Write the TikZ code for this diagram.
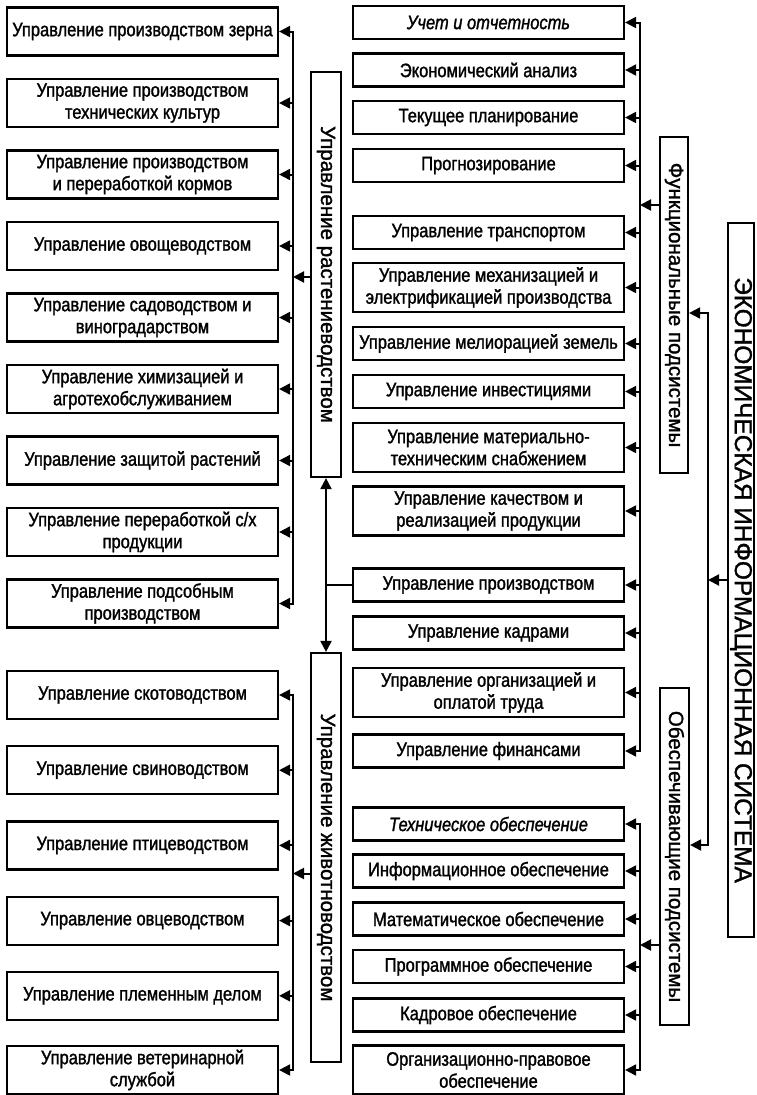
\documentclass[tikz,border=0pt]{standalone}
\usepackage{fontspec}
\usepackage{graphicx}
\setmainfont{Liberation Sans}
\newfontfamily\boxfont[FakeStretch=0.845,FakeBold=1.4]{Liberation Sans}
\newfontfamily\labfont[FakeBold=1.4]{Liberation Sans}
\usetikzlibrary{arrows.meta}
\begin{document}
\begin{tikzpicture}[x=1pt,y=-1pt,
  box/.style={draw, line width=2.2pt, align=center, inner sep=0pt, font=\boxfont\fontsize{19.5}{22}\selectfont},
  lbox/.style={box, minimum width=271pt, minimum height=48pt},
  mbox/.style={box, minimum width=271pt, minimum height=33pt},
  mboxtwo/.style={box, minimum width=271pt, minimum height=49pt},
  vbox/.style={draw, line width=2.2pt, inner sep=0pt, font=\labfont\fontsize{20.5}{22}\selectfont},
  conn/.style={line width=2pt, line cap=rect},
  tipA/.tip={Triangle[length=11pt,width=11pt]},
  arr/.style={conn, -tipA},
  both/.style={conn, tipA-tipA},
]
\useasboundingbox (0,0) rectangle (757,1095);
\coordinate (bA) at (293,0);
\coordinate (bM) at (640,0);
\coordinate (bR) at (708,0);

% left column: crop production
\node[lbox] (L1) at (142.5,31.5) {Управление производством зерна};
\node[lbox] (L2) at (142.5,103) {Управление производством\\технических культур};
\node[lbox] (L3) at (142.5,174.5) {Управление производством\\и переработкой кормов};
\node[lbox] (L4) at (142.5,246) {Управление овощеводством};
\node[lbox] (L5) at (142.5,317.5) {Управление садоводством и\\виноградарством};
\node[lbox] (L6) at (142.5,389) {Управление химизацией и\\агротехобслуживанием};
\node[lbox] (L7) at (142.5,460.5) {Управление защитой растений};
\node[lbox] (L8) at (142.5,532) {Управление переработкой с/х\\продукции};
\node[lbox] (L9) at (142.5,603.5) {Управление подсобным\\производством};
% left column: animal husbandry
\node[lbox] (L10) at (142.5,695) {Управление скотоводством};
\node[lbox] (L11) at (142.5,770.2) {Управление свиноводством};
\node[lbox] (L12) at (142.5,845.4) {Управление птицеводством};
\node[lbox] (L13) at (142.5,920.6) {Управление овцеводством};
\node[lbox] (L14) at (142.5,995.8) {Управление племенным делом};
\node[lbox] (L15) at (142.5,1070) {Управление ветеринарной\\службой};

% vertical group boxes
\node[vbox, minimum width=30pt, minimum height=405pt] (RA) at (326,274.5) {\rotatebox{-90}{Управление растениеводством}};
\node[vbox, minimum width=30pt, minimum height=409pt] (ZH) at (326,857.5) {\rotatebox{-90}{Управление животноводством}};

% middle column
\node[mbox] (M1) at (488.5,22.5) {\itshape Учет и отчетность};
\node[mbox] (M2) at (488.5,70) {Экономический анализ};
\node[mbox] (M3) at (488.5,117.5) {Текущее планирование};
\node[mbox] (M4) at (488.5,165.5) {Прогнозирование};
\node[mbox] (M5) at (488.5,232.5) {Управление транспортом};
\node[mboxtwo] (M6) at (488.5,287.5) {Управление механизацией и\\электрификацией производства};
\node[mbox] (M7) at (488.5,343.5) {Управление мелиорацией земель};
\node[mbox] (M8) at (488.5,391.5) {Управление инвестициями};
\node[mboxtwo] (M9) at (488.5,447.5) {Управление материально-\\техническим снабжением};
\node[mboxtwo] (M10) at (488.5,511) {Управление качеством и\\реализацией продукции};
\node[mbox] (M11) at (488.5,585) {Управление производством};
\node[mbox] (M12) at (488.5,633) {Управление кадрами};
\node[mboxtwo] (M13) at (488.5,692.5) {Управление организацией и\\оплатой труда};
\node[mbox] (M14) at (488.5,751) {Управление финансами};
\node[mbox] (S1) at (488.5,824) {\itshape Техническое обеспечение};
\node[mbox] (S2) at (488.5,871) {Информационное обеспечение};
\node[mbox] (S3) at (488.5,919) {Математическое обеспечение};
\node[mbox] (S4) at (488.5,966.5) {Программное обеспечение};
\node[mbox] (S5) at (488.5,1015) {Кадровое обеспечение};
\node[mboxtwo] (S6) at (488.5,1070) {Организационно-правовое\\обеспечение};

% subsystem boxes
\node[vbox, minimum width=28pt, minimum height=336pt] (FS) at (674,305) {\rotatebox{-90}{Функциональные подсистемы}};
\node[vbox, minimum width=29pt, minimum height=337pt] (OS) at (674.5,856.5) {\rotatebox{-90}{Обеспечивающие подсистемы}};
\node[vbox, minimum width=26pt, minimum height=714pt, font=\labfont\fontsize{24.4}{26}\selectfont] (E) at (741,580) {\rotatebox{-90}{ЭКОНОМИЧЕСКАЯ ИНФОРМАЦИОННАЯ СИСТЕМА}};

% crop bus
\draw[both] (L1.east) -- (L1.east -| bA) -- (L9.east -| bA) -- (L9.east);
\foreach \i in {2,...,8} \draw[arr] (L\i.east -| bA) -- (L\i.east);
\draw[arr] ([yshift=-2.5pt]RA.west) -- ([yshift=-2.5pt]RA.west -| bA);
% animal bus
\draw[both] (L10.east) -- (L10.east -| bA) -- (L15.east -| bA) -- (L15.east);
\foreach \i in {11,...,14} \draw[arr] (L\i.east -| bA) -- (L\i.east);
\draw[arr] ([yshift=-16pt]ZH.west) -- ([yshift=-16pt]ZH.west -| bA);

% production link
\draw[conn] (M11.west) -- (M11.west -| RA.south);
\draw[arr] (M11.west -| RA.south) -- (RA.south);
\draw[arr] (M11.west -| ZH.north) -- (ZH.north);

% functional bus
\draw[both] (M1.east) -- (M1.east -| bM) -- (M14.east -| bM) -- (M14.east);
\foreach \i in {2,...,13} \draw[arr] (M\i.east -| bM) -- (M\i.east);
\draw[arr] ([yshift=100pt]FS.west) -- ([yshift=100pt]FS.west -| bM);
% supporting bus
\draw[both] (S1.east) -- (S1.east -| bM) -- (S6.east -| bM) -- (S6.east);
\foreach \i in {2,...,5} \draw[arr] (S\i.east -| bM) -- (S\i.east);
\draw[arr] ([yshift=-88.5pt]OS.west) -- ([yshift=-88.5pt]OS.west -| bM);

% main bus
\draw[both] ([yshift=-8pt]FS.east) -- ([yshift=-8pt]FS.east -| bR) -- ([yshift=11.5pt]OS.east -| bR) -- ([yshift=11.5pt]OS.east);
\draw[arr] (E.west) -- (E.west -| bR);
\end{tikzpicture}
\end{document}
